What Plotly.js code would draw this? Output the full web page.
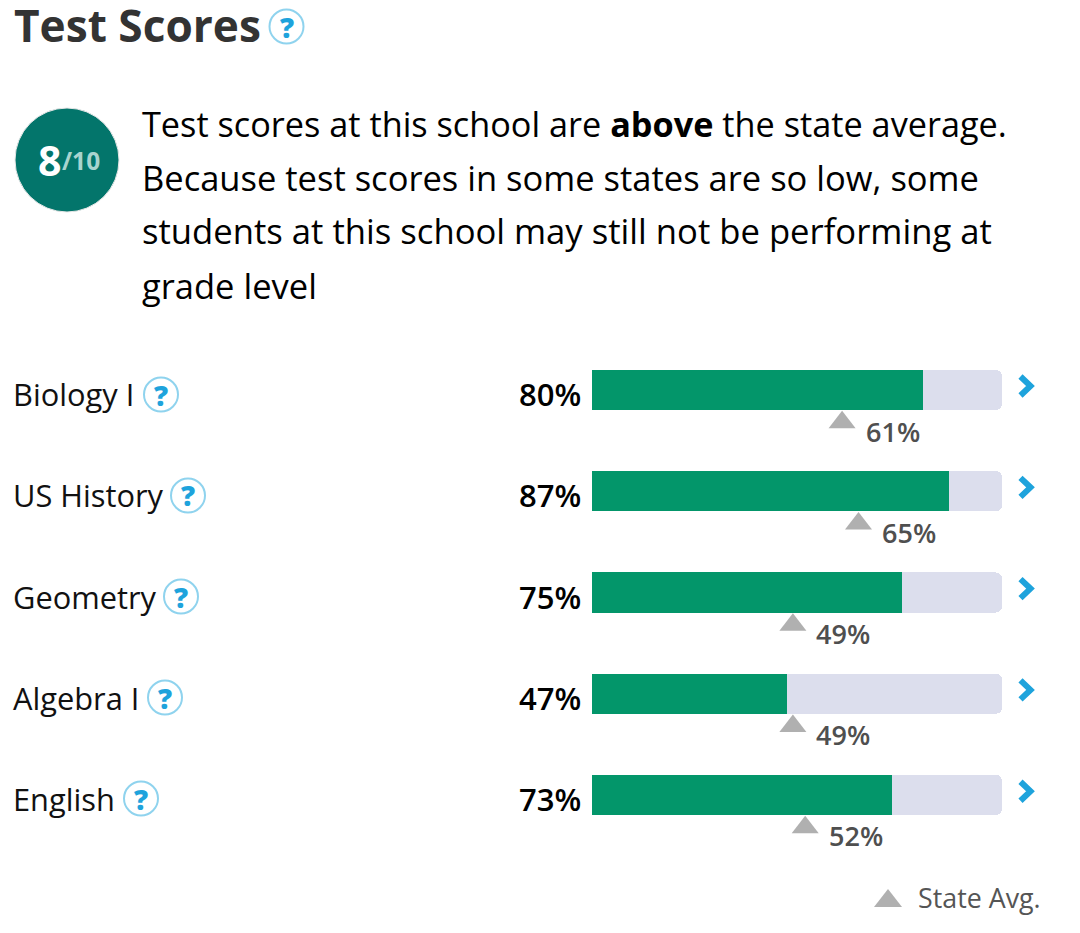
<!DOCTYPE html>
<html><head><meta charset="utf-8">
<script src="https://cdn.plot.ly/plotly-3.0.1.min.js"></script>
<style>html,body{margin:0;padding:0;background:#fff;overflow:hidden}#c{width:1080px;height:933px}</style>
</head><body><div id="c"></div>
<script>
const subjects = ["Biology I","US History","Geometry","Algebra I","English"];
const schoolLabels = ["80%","87%","75%","47%","73%"];
const barLengths = [80.8,87,75.6,47.6,73.2];
const stateScores = [61,65,49,49,52];
const labelY = [394,495.3,596.6,697.9,799.2];
const helpY = [394.5,495.5,596.5,697.5,798.5];
const helpX = [161,188,181,165,141];
const bodyLines = [
  "Test scores at this school are <b>above</b> the state average.",
  "Because test scores in some states are so low, some",
  "students at this school may still not be performing at",
  "grade level"];
const bodyY = [123,177,231,285];
const bodySizes = [34.25,34.5,34.65,34.5];

const W=1080,H=933;
const px=x=>x/W, py=y=>1-y/H;
const FONT="Open Sans";
const BLUE="#1ea3dc", RING="#8fd3ee", TRI="#b0b0b0";
const rows=subjects.map((_,i)=>i);

const traces=[
 {type:"bar",orientation:"h",y:rows,x:barLengths,width:0.396,marker:{color:"#03966a",line:{width:0}},hoverinfo:"skip"},
 {type:"bar",orientation:"h",y:rows,x:barLengths.map(v=>100-v),width:0.396,marker:{color:"#dcdeed",line:{width:0}},hoverinfo:"skip"},
 {type:"scatter",mode:"markers",x:stateScores,y:rows.map(r=>r+0.32),
  marker:{symbol:"triangle-up",size:23.4,color:TRI,line:{width:0}},hoverinfo:"skip",cliponaxis:false}
];

const ann=[], shapes=[];
function t(x,y,text,size,color,anchor,weight){
  ann.push({xref:"paper",yref:"paper",x:px(x),y:py(y),text,showarrow:false,xanchor:anchor||"left",yanchor:"middle",
    borderpad:0,font:{family:FONT,size,color,weight:weight||400}});
}
function help(cx,cy){
  const r=17;
  shapes.push({type:"circle",xref:"paper",yref:"paper",x0:px(cx-r),x1:px(cx+r),y0:py(cy+r),y1:py(cy-r),
    line:{color:RING,width:2},fillcolor:"#ffffff"});
  t(cx,cy,"?",28,BLUE,"center",800);
}
t(12.5,25,"Test Scores",44.2,"#333333","left",700);
help(286.5,26.5);

shapes.push({type:"circle",xref:"paper",yref:"paper",x0:px(15),x1:px(119),y0:py(212),y1:py(108),
  line:{color:"#e8e8e8",width:1},fillcolor:"#03756b"});
t(37,160,"8",41,"#ffffff","left",700);
t(61,160,"/10",24.5,"#a9d4cf","left",700);

bodyLines.forEach((s,i)=>t(141,bodyY[i],s,bodySizes[i],"#000000","left",400));

subjects.forEach((s,i)=>{
  t(12,labelY[i],s,30.8,"#111111","left",400);
  help(helpX[i],helpY[i]);
  t(582,labelY[i],schoolLabels[i],31,"#000000","right",600);
  ann.push({xref:"x",yref:"paper",x:stateScores[i],xshift:22.5,y:py(helpY[i]+36.5),text:stateScores[i]+"%",showarrow:false,
    xanchor:"left",yanchor:"middle",borderpad:0,font:{family:FONT,size:27,color:"#4f4f4f",weight:600}});
  const cy=labelY[i]-8;
  shapes.push({type:"path",xref:"paper",yref:"paper",
    path:`M${px(1020.5)},${py(cy-9.5)} L${px(1030.5)},${py(cy)} L${px(1020.5)},${py(cy+9.5)}`,
    line:{color:BLUE,width:6,cap:"round"},fillcolor:"rgba(0,0,0,0)"});
});

shapes.push({type:"path",xref:"paper",yref:"paper",
  path:`M${px(874)},${py(907)} L${px(888)},${py(889)} L${px(902)},${py(907)} Z`,
  line:{width:0},fillcolor:TRI});
t(917,897,"State Avg.",26.8,"#555555","left",400);

Plotly.newPlot("c",traces,{
  width:W,height:H,margin:{l:0,r:0,t:0,b:0},showlegend:false,
  paper_bgcolor:"#fff",plot_bgcolor:"#fff",
  barmode:"stack",barcornerradius:6,
  xaxis:{domain:[px(592),px(1002)],range:[0,100],visible:false,fixedrange:true},
  yaxis:{domain:[py(845.6),py(339.4)],range:[4.5,-0.5],visible:false,fixedrange:true},
  annotations:ann,shapes:shapes
},{displayModeBar:false,staticPlot:true});
</script></body></html>
